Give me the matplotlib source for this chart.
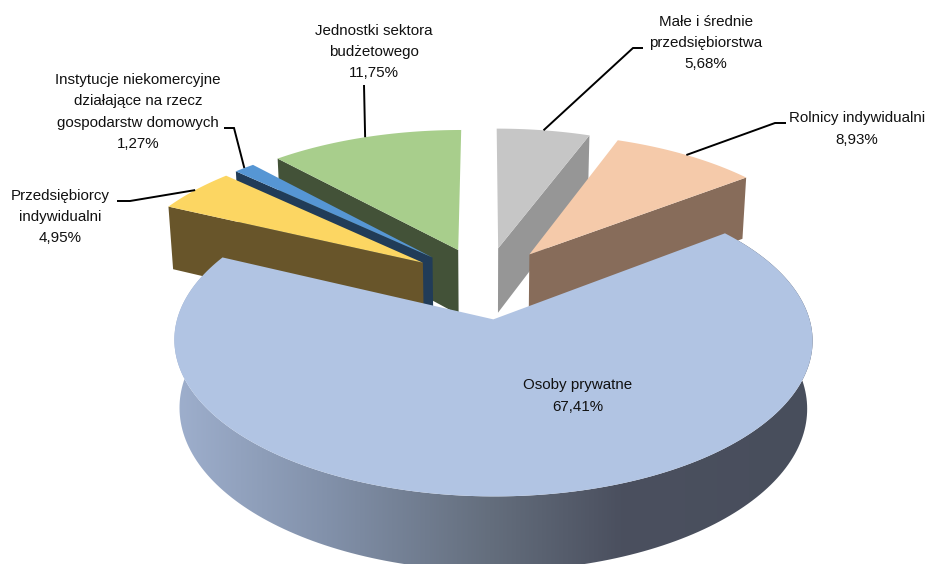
import numpy as np
import matplotlib
matplotlib.use('Agg')
import matplotlib.pyplot as plt
from matplotlib.patches import Polygon

plt.rcParams['font.family'] = ['Liberation Sans', 'DejaVu Sans']

# Slices in clockwise order
categories = ['Osoby prywatne', 'Przedsiębiorcy\nindywidualni',
              'Instytucje niekomercyjne\ndziałające na rzecz\ngospodarstw domowych',
              'Jednostki sektora\nbudżetowego', 'Małe i średnie\nprzedsiębiorstwa',
              'Rolnicy indywidualni']
values = [67.41, 4.95, 1.27, 11.75, 5.68, 8.93]
top_colors = ['#b1c4e3', '#fcd662', '#5696d4', '#a8ce8c', '#c6c6c6', '#f5caaa']
wall_colors = ['#4a5060', '#68552a', '#213c58', '#435238', '#969696', '#876c5a']
explode = 0.25

# Where each label sits and the elbow of its leader line
label_pos = [(578, 396), (60, 217), (138, 112), (374, 52), (706, 43), (857, 129)]
leader_path = [None, [(130, 201), (117, 201)], [(234, 128), (224, 128)],
               [(364, 85)], [(633, 48), (643, 48)], [(775, 123), (786, 123)]]

# Projection of the tilted pie
CX, CY = 485, 282.5
R, RY = 306, 143.5
HEIGHT = 67
PERSP, PERSP_Z = 0.13, 0.016
START = 37.4


def project(x, y, z=0.0):
    d = 1 + PERSP * y + PERSP_Z * z
    return CX + R * x / d, CY + (-RY * y + HEIGHT * z) / d


def arc(a0, a1, mid, z=0.0):
    t = np.radians(np.linspace(a0, a1, 200))
    m = np.radians(mid)
    sx, sy = project(explode * np.cos(m) + np.cos(t), explode * np.sin(m) + np.sin(t), z)
    return np.column_stack([sx, sy])


def tip(mid, z=0.0):
    m = np.radians(mid)
    return np.array(project(explode * np.cos(m), explode * np.sin(m), z))


fig = plt.figure(figsize=(9.27, 5.64), dpi=100)
ax = fig.add_axes([0, 0, 1, 1])

sweeps = np.array(values) / sum(values) * 360
ends = START - np.cumsum(sweeps)
starts = ends + sweeps
mids = (starts + ends) / 2

# Back slices first, the large front slice last
for i in [4, 5, 3, 2, 1, 0]:
    top_arc = arc(starts[i], ends[i], mids[i])
    low_arc = arc(starts[i], ends[i], mids[i], 1)
    if i == 0:
        # Outer side of the big slice darkens from left to right
        wall = np.vstack([top_arc, low_arc[::-1]])
        xs = np.linspace(170, 815, 400)
        stops_x = [175, 327, 490, 620, 815]
        stops = np.array([[158, 175, 205], [130, 145, 170], [100, 110, 125],
                          [75, 80, 95], [72, 78, 92]]) / 255
        grad = np.stack([np.interp(xs, stops_x, stops[:, c]) for c in range(3)], axis=1)
        patch = Polygon(wall, closed=True, fc='none', ec='none')
        ax.add_patch(patch)
        im = ax.imshow(grad[np.newaxis, :, :], extent=[170, 815, 600, 200],
                       aspect='auto', interpolation='bilinear', zorder=1)
        im.set_clip_path(patch)
    else:
        # Only the cut face turned towards the viewer shows
        j = 0 if mids[i] % 360 > 90 else -1
        ax.add_patch(Polygon([top_arc[j], tip(mids[i]), tip(mids[i], 1), low_arc[j]],
                             closed=True, fc=wall_colors[i], ec='none', zorder=2))
    face = np.vstack([tip(mids[i]), top_arc])
    ax.add_patch(Polygon(face, closed=True, fc=top_colors[i], ec='none', zorder=2))

# Labels and leader lines
for i, (name, val) in enumerate(zip(categories, values)):
    txt = name + '\n' + f'{val:.2f}'.replace('.', ',') + '%'
    ax.text(label_pos[i][0], label_pos[i][1], txt, ha='center', va='center',
            fontsize=10.9, color='#111111', linespacing=1.66, zorder=5)
    if leader_path[i] is not None:
        start = arc(mids[i], mids[i], mids[i])[0]
        pts = np.vstack([start, leader_path[i]])
        ax.plot(pts[:, 0], pts[:, 1], color='black', lw=1.4, zorder=4,
                solid_capstyle='butt', solid_joinstyle='miter')

ax.set_xlim(0, 927)
ax.set_ylim(564, 0)
ax.axis('off')
fig.savefig('out.png', dpi=100, facecolor='white')
